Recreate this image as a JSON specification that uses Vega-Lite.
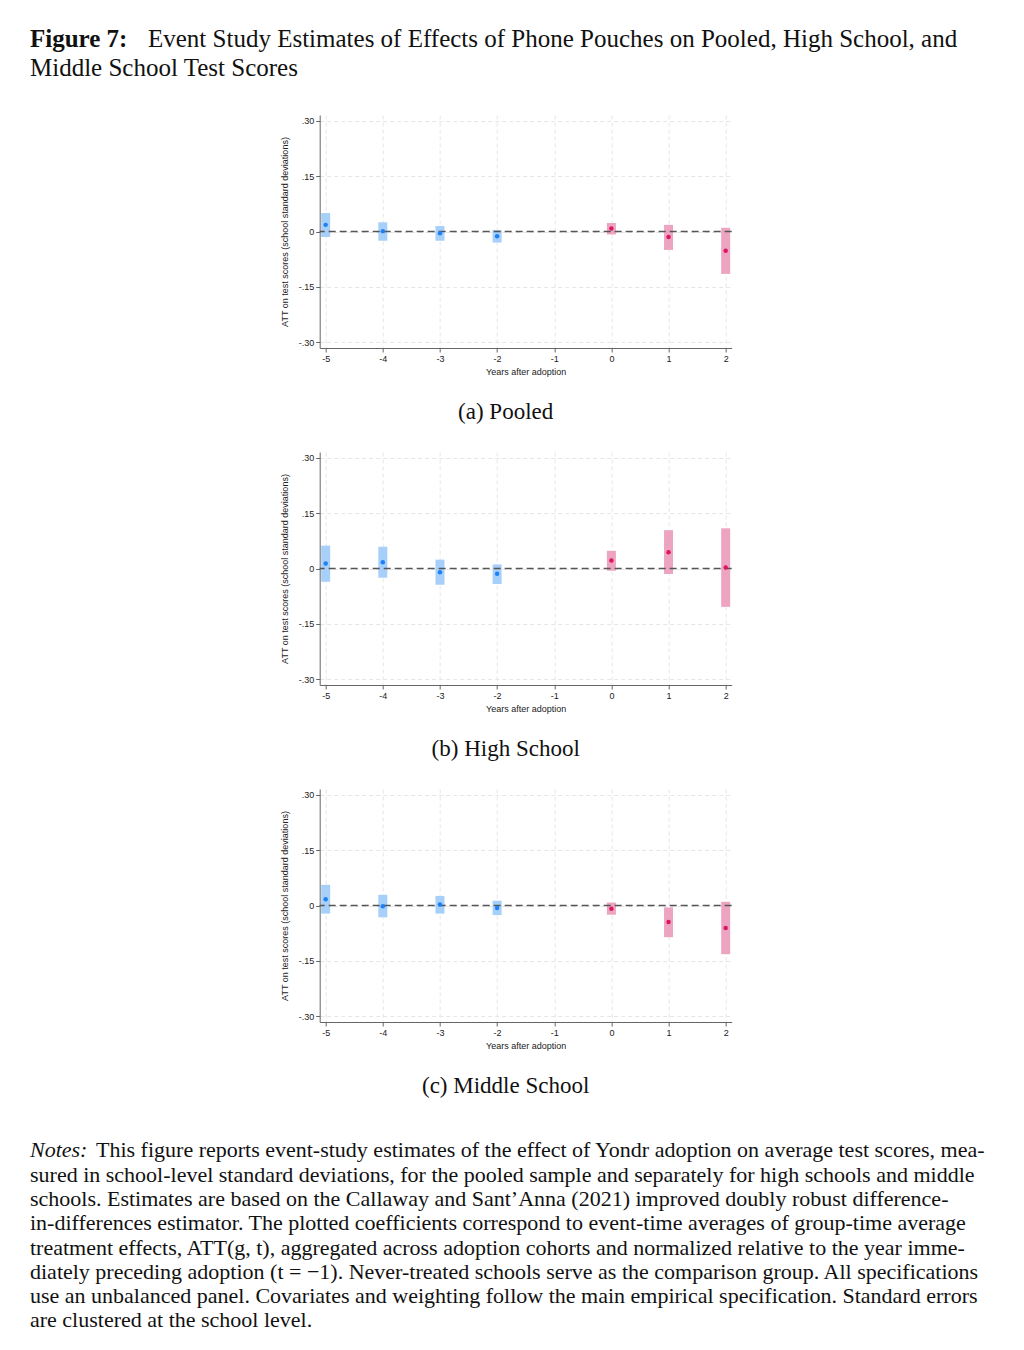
{
  "$schema": "https://vega.github.io/schema/vega-lite/v6.json",
  "background": "white",
  "padding": {"left": 30, "top": 27, "right": 0, "bottom": 5},
  "spacing": 28,
  "center": true,
  "config": {
    "view": {"stroke": null},
    "axis": {
      "labelFont": "Liberation Sans", "labelFontSize": 9, "labelColor": "#222",
      "titleFont": "Liberation Sans", "titleFontSize": 9, "titleFontWeight": "normal", "titleColor": "#222",
      "domainColor": "#666", "tickColor": "#666", "tickSize": 4, "labelPadding": 2,
      "grid": true, "gridColor": "#e6e6e6", "gridDash": [4, 3]
    },
    "title": {"font": "Liberation Serif", "fontSize": 23, "fontWeight": "normal", "color": "#111"}
  },
  "datasets": {
    "est": [
      {"panel": "a", "t": -5, "est": 0.018, "lo": -0.015, "hi": 0.050, "period": "pre"},
      {"panel": "a", "t": -4, "est": 0.001, "lo": -0.025, "hi": 0.025, "period": "pre"},
      {"panel": "a", "t": -3, "est": -0.005, "lo": -0.025, "hi": 0.015, "period": "pre"},
      {"panel": "a", "t": -2, "est": -0.013, "lo": -0.030, "hi": 0.004, "period": "pre"},
      {"panel": "a", "t": 0, "est": 0.008, "lo": -0.008, "hi": 0.023, "period": "post"},
      {"panel": "a", "t": 1, "est": -0.015, "lo": -0.050, "hi": 0.018, "period": "post"},
      {"panel": "a", "t": 2, "est": -0.052, "lo": -0.115, "hi": 0.010, "period": "post"},
      {"panel": "b", "t": -5, "est": 0.0135, "lo": -0.036, "hi": 0.062, "period": "pre"},
      {"panel": "b", "t": -4, "est": 0.017, "lo": -0.025, "hi": 0.059, "period": "pre"},
      {"panel": "b", "t": -3, "est": -0.010, "lo": -0.044, "hi": 0.024, "period": "pre"},
      {"panel": "b", "t": -2, "est": -0.014, "lo": -0.042, "hi": 0.011, "period": "pre"},
      {"panel": "b", "t": 0, "est": 0.022, "lo": -0.006, "hi": 0.048, "period": "post"},
      {"panel": "b", "t": 1, "est": 0.044, "lo": -0.015, "hi": 0.104, "period": "post"},
      {"panel": "b", "t": 2, "est": 0.003, "lo": -0.104, "hi": 0.109, "period": "post"},
      {"panel": "c", "t": -5, "est": 0.017, "lo": -0.022, "hi": 0.056, "period": "pre"},
      {"panel": "c", "t": -4, "est": -0.002, "lo": -0.032, "hi": 0.029, "period": "pre"},
      {"panel": "c", "t": -3, "est": 0.003, "lo": -0.022, "hi": 0.026, "period": "pre"},
      {"panel": "c", "t": -2, "est": -0.007, "lo": -0.026, "hi": 0.013, "period": "pre"},
      {"panel": "c", "t": 0, "est": -0.009, "lo": -0.025, "hi": 0.008, "period": "post"},
      {"panel": "c", "t": 1, "est": -0.045, "lo": -0.086, "hi": -0.005, "period": "post"},
      {"panel": "c", "t": 2, "est": -0.061, "lo": -0.132, "hi": 0.010, "period": "post"}
    ]
  },
  "vconcat": [
    {
      "width": 992, "height": 51,
      "encoding": {
        "x": {"value": 0},
        "y": {"field": "line", "type": "ordinal", "axis": null, "scale": {"type": "point", "padding": 0.38}}
      },
      "layer": [
        {
          "data": {"values": [{"line": 1, "text": "Figure 7:"}]},
          "mark": {"type": "text", "align": "left", "baseline": "alphabetic", "font": "Liberation Serif", "fontSize": 25, "fontWeight": "bold", "color": "#111"},
          "encoding": {"text": {"field": "text"}}
        },
        {
          "data": {"values": [{"line": 1, "text": "Event Study Estimates of Effects of Phone Pouches on Pooled, High School, and"}, {"line": 2, "text": ""}]},
          "mark": {"type": "text", "align": "left", "baseline": "alphabetic", "font": "Liberation Serif", "fontSize": 25, "dx": 118, "color": "#111"},
          "encoding": {"text": {"field": "text"}}
        },
        {
          "data": {"values": [{"line": 2, "text": "Middle School Test Scores"}]},
          "mark": {"type": "text", "align": "left", "baseline": "alphabetic", "font": "Liberation Serif", "fontSize": 25, "color": "#111"},
          "encoding": {"text": {"field": "text"}}
        }
      ]
    },
    {
      "width": 412, "height": 233,
      "title": {"text": "(a) Pooled", "orient": "bottom", "anchor": "middle", "offset": 25, "dx": -20},
      "layer": [
        {
          "data": {"name": "est"},
          "transform": [{"filter": "datum.panel == 'a'"}],
          "mark": {"type": "rule", "strokeWidth": 9},
          "encoding": {
            "x": {"field": "t", "type": "quantitative", "scale": {"domain": [-5.105, 2.105], "nice": false, "zero": false},
              "axis": {"values": [-5, -4, -3, -2, -1, 0, 1, 2], "labelExpr": "'' + datum.value", "title": "Years after adoption", "titlePadding": 4}},
            "y": {"field": "lo", "type": "quantitative", "scale": {"domain": [-0.316, 0.316], "nice": false, "zero": false},
              "axis": {"values": [-0.3, -0.15, 0, 0.15, 0.3], "labelExpr": "datum.value == 0 ? '0' : (datum.value < 0 ? '-' : '') + replace(format(abs(datum.value), '.2f'), '0.', '.')", "title": "ATT on test scores (school standard deviations)", "titlePadding": 9}},
            "y2": {"field": "hi"},
            "stroke": {"field": "period", "type": "nominal", "scale": {"domain": ["pre", "post"], "range": ["#a6cff9", "#eda4c1"]}, "legend": null}
          }
        },
        {
          "data": {"values": [{"zero": 0}]},
          "mark": {"type": "rule", "color": "#555", "strokeWidth": 1.3, "strokeDash": [7, 4]},
          "encoding": {"y": {"field": "zero", "type": "quantitative"}}
        },
        {
          "data": {"name": "est"},
          "transform": [{"filter": "datum.panel == 'a'"}],
          "mark": {"type": "circle", "size": 20, "opacity": 1},
          "encoding": {
            "x": {"field": "t", "type": "quantitative"},
            "y": {"field": "est", "type": "quantitative"},
            "fill": {"field": "period", "type": "nominal", "scale": {"domain": ["pre", "post"], "range": ["#1f80f2", "#db1663"]}, "legend": null}
          }
        }
      ]
    },
    {
      "width": 412, "height": 233,
      "title": {"text": "(b) High School", "orient": "bottom", "anchor": "middle", "offset": 25, "dx": -20},
      "layer": [
        {
          "data": {"name": "est"},
          "transform": [{"filter": "datum.panel == 'b'"}],
          "mark": {"type": "rule", "strokeWidth": 9},
          "encoding": {
            "x": {"field": "t", "type": "quantitative", "scale": {"domain": [-5.105, 2.105], "nice": false, "zero": false},
              "axis": {"values": [-5, -4, -3, -2, -1, 0, 1, 2], "labelExpr": "'' + datum.value", "title": "Years after adoption", "titlePadding": 4}},
            "y": {"field": "lo", "type": "quantitative", "scale": {"domain": [-0.316, 0.316], "nice": false, "zero": false},
              "axis": {"values": [-0.3, -0.15, 0, 0.15, 0.3], "labelExpr": "datum.value == 0 ? '0' : (datum.value < 0 ? '-' : '') + replace(format(abs(datum.value), '.2f'), '0.', '.')", "title": "ATT on test scores (school standard deviations)", "titlePadding": 9}},
            "y2": {"field": "hi"},
            "stroke": {"field": "period", "type": "nominal", "scale": {"domain": ["pre", "post"], "range": ["#a6cff9", "#eda4c1"]}, "legend": null}
          }
        },
        {
          "data": {"values": [{"zero": 0}]},
          "mark": {"type": "rule", "color": "#555", "strokeWidth": 1.3, "strokeDash": [7, 4]},
          "encoding": {"y": {"field": "zero", "type": "quantitative"}}
        },
        {
          "data": {"name": "est"},
          "transform": [{"filter": "datum.panel == 'b'"}],
          "mark": {"type": "circle", "size": 20, "opacity": 1},
          "encoding": {
            "x": {"field": "t", "type": "quantitative"},
            "y": {"field": "est", "type": "quantitative"},
            "fill": {"field": "period", "type": "nominal", "scale": {"domain": ["pre", "post"], "range": ["#1f80f2", "#db1663"]}, "legend": null}
          }
        }
      ]
    },
    {
      "width": 412, "height": 233,
      "title": {"text": "(c) Middle School", "orient": "bottom", "anchor": "middle", "offset": 25, "dx": -20},
      "layer": [
        {
          "data": {"name": "est"},
          "transform": [{"filter": "datum.panel == 'c'"}],
          "mark": {"type": "rule", "strokeWidth": 9},
          "encoding": {
            "x": {"field": "t", "type": "quantitative", "scale": {"domain": [-5.105, 2.105], "nice": false, "zero": false},
              "axis": {"values": [-5, -4, -3, -2, -1, 0, 1, 2], "labelExpr": "'' + datum.value", "title": "Years after adoption", "titlePadding": 4}},
            "y": {"field": "lo", "type": "quantitative", "scale": {"domain": [-0.316, 0.316], "nice": false, "zero": false},
              "axis": {"values": [-0.3, -0.15, 0, 0.15, 0.3], "labelExpr": "datum.value == 0 ? '0' : (datum.value < 0 ? '-' : '') + replace(format(abs(datum.value), '.2f'), '0.', '.')", "title": "ATT on test scores (school standard deviations)", "titlePadding": 9}},
            "y2": {"field": "hi"},
            "stroke": {"field": "period", "type": "nominal", "scale": {"domain": ["pre", "post"], "range": ["#a6cff9", "#eda4c1"]}, "legend": null}
          }
        },
        {
          "data": {"values": [{"zero": 0}]},
          "mark": {"type": "rule", "color": "#555", "strokeWidth": 1.3, "strokeDash": [7, 4]},
          "encoding": {"y": {"field": "zero", "type": "quantitative"}}
        },
        {
          "data": {"name": "est"},
          "transform": [{"filter": "datum.panel == 'c'"}],
          "mark": {"type": "circle", "size": 20, "opacity": 1},
          "encoding": {
            "x": {"field": "t", "type": "quantitative"},
            "y": {"field": "est", "type": "quantitative"},
            "fill": {"field": "period", "type": "nominal", "scale": {"domain": ["pre", "post"], "range": ["#1f80f2", "#db1663"]}, "legend": null}
          }
        }
      ]
    },
    {
      "width": 992, "height": 218.7,
      "encoding": {
        "x": {"value": 0},
        "y": {"field": "line", "type": "ordinal", "axis": null, "scale": {"type": "point", "padding": 1}}
      },
      "layer": [
        {
          "data": {"values": [{"line": 1, "text": "Notes:"}]},
          "mark": {"type": "text", "align": "left", "baseline": "middle", "font": "Liberation Serif", "fontSize": 22, "fontStyle": "italic", "color": "#111"},
          "encoding": {"text": {"field": "text"}}
        },
        {
          "data": {"values": [{"line": 1, "text": "This figure reports event-study estimates of the effect of Yondr adoption on average test scores, mea-"}]},
          "mark": {"type": "text", "align": "left", "baseline": "middle", "font": "Liberation Serif", "fontSize": 22, "dx": 66, "color": "#111"},
          "encoding": {"text": {"field": "text"}}
        },
        {
          "data": {"values": [
            {"line": 2, "text": "sured in school-level standard deviations, for the pooled sample and separately for high schools and middle"},
            {"line": 3, "text": "schools.  Estimates are based on the Callaway and Sant’Anna (2021) improved doubly robust difference-"},
            {"line": 4, "text": "in-differences estimator.  The plotted coefficients correspond to event-time averages of group-time average"},
            {"line": 5, "text": "treatment effects, ATT(g, t), aggregated across adoption cohorts and normalized relative to the year imme-"},
            {"line": 6, "text": "diately preceding adoption (t = −1). Never-treated schools serve as the comparison group. All specifications"},
            {"line": 7, "text": "use an unbalanced panel. Covariates and weighting follow the main empirical specification. Standard errors"},
            {"line": 8, "text": "are clustered at the school level."}
          ]},
          "mark": {"type": "text", "align": "left", "baseline": "middle", "font": "Liberation Serif", "fontSize": 22, "color": "#111"},
          "encoding": {"text": {"field": "text"}}
        }
      ]
    }
  ]
}
